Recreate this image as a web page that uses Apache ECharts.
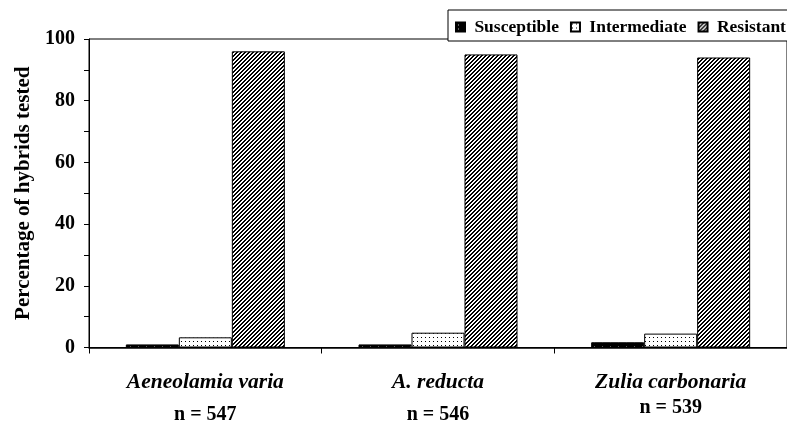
<!DOCTYPE html>
<html>
<head>
<meta charset="utf-8">
<script src="https://cdn.jsdelivr.net/npm/echarts@6/dist/echarts.min.js"></script>
<style>
  html, body { margin: 0; padding: 0; background: #fff; }
  #chart { width: 787px; height: 425px; }
</style>
</head>
<body>
<div id="chart"></div>
<script>
const species = ['Aeneolamia varia', 'A. reducta', 'Zulia carbonaria'];
const sampleSizes = [547, 546, 539];
const susceptible = [1.0, 1.0, 1.7];
const intermediate = [3.3, 4.8, 4.5];
const resistant = [96, 95, 94];
const yTicks = [0, 20, 40, 60, 80, 100];

// small canvas tiles used as fill patterns
function makeTile(w, h, bg, fg, isInk) {
  const c = document.createElement('canvas');
  c.width = w; c.height = h;
  const ctx = c.getContext('2d');
  ctx.fillStyle = bg;
  ctx.fillRect(0, 0, w, h);
  ctx.fillStyle = fg;
  for (let x = 0; x < w; x++) {
    for (let y = 0; y < h; y++) {
      if (isInk(x, y)) ctx.fillRect(x, y, 1, 1);
    }
  }
  return { image: c, repeat: 'repeat' };
}

const solidDots = makeTile(8, 4, '#000', '#bbb', (x, y) => x === 2 && y === 2);
const lightDots = makeTile(4, 4, '#fff', '#000', (x, y) => x === 1 && y === 1);
const hatch = makeTile(4, 4, '#fff', '#000', (x, y) => (x + y) % 4 < 2);

const serif = "'Liberation Serif', 'Times New Roman', serif";

const chart = echarts.init(document.getElementById('chart'), null, { renderer: 'canvas' });

function barSeries(name, values, fill) {
  return {
    name: name,
    type: 'bar',
    data: values,
    barWidth: 53,
    barGap: '0%',
    itemStyle: { color: fill, borderColor: '#000', borderWidth: 1 },
    emphasis: { disabled: true }
  };
}

chart.setOption({
  animation: false,
  backgroundColor: '#fff',
  grid: {
    left: 89, top: 39, width: 704, bottom: 77,
    show: true, borderColor: '#000', borderWidth: 1, backgroundColor: 'transparent'
  },
  legend: {
    left: 448, top: 10,
    padding: [8, 10, 5, 7],
    borderColor: '#000', borderWidth: 1,
    backgroundColor: '#fff',
    itemWidth: 9, itemHeight: 9, itemGap: 11,
    icon: 'rect',
    width: 420,
    formatter: name => ' ' + name,
    textStyle: { fontFamily: serif, fontWeight: 'bold', fontSize: 17.5, color: '#000', lineHeight: 17 },
    data: ['Susceptible', 'Intermediate', 'Resistant']
  },
  xAxis: {
    type: 'category',
    data: species,
    axisLine: { lineStyle: { color: '#000', width: 1.5 } },
    axisTick: { show: true, length: 6, lineStyle: { color: '#000' } },
    axisLabel: {
      margin: 22,
      interval: 0,
      formatter: (v, i) => '{s|' + v + '}\n{' + (i === 2 ? 'm' : 'n') + '|n = ' + sampleSizes[i] + '}',
      rich: {
        s: { fontFamily: serif, fontStyle: 'italic', fontWeight: 'bold', fontSize: 21.5, color: '#000', lineHeight: 26 },
        n: { fontFamily: serif, fontWeight: 'bold', fontSize: 20, color: '#000', lineHeight: 39 },
        m: { fontFamily: serif, fontWeight: 'bold', fontSize: 20, color: '#000', lineHeight: 24 }
      }
    }
  },
  yAxis: {
    type: 'value',
    min: yTicks[0], max: yTicks[yTicks.length - 1], interval: 20,
    name: 'Percentage of hybrids tested',
    nameLocation: 'middle',
    nameGap: 54,
    nameTextStyle: { fontFamily: serif, fontWeight: 'bold', fontSize: 21, color: '#000' },
    axisLine: { show: true, lineStyle: { color: '#000', width: 1 } },
    axisTick: { show: true, length: 5, lineStyle: { color: '#000' } },
    minorTick: { show: true, splitNumber: 2, length: 5, lineStyle: { color: '#000' } },
    splitLine: { show: false },
    axisLabel: { margin: 14, fontFamily: serif, fontWeight: 'bold', fontSize: 20, color: '#000' }
  },
  series: [
    barSeries('Susceptible', susceptible, solidDots),
    barSeries('Intermediate', intermediate, lightDots),
    barSeries('Resistant', resistant, hatch)
  ]
});
</script>
</body>
</html>
